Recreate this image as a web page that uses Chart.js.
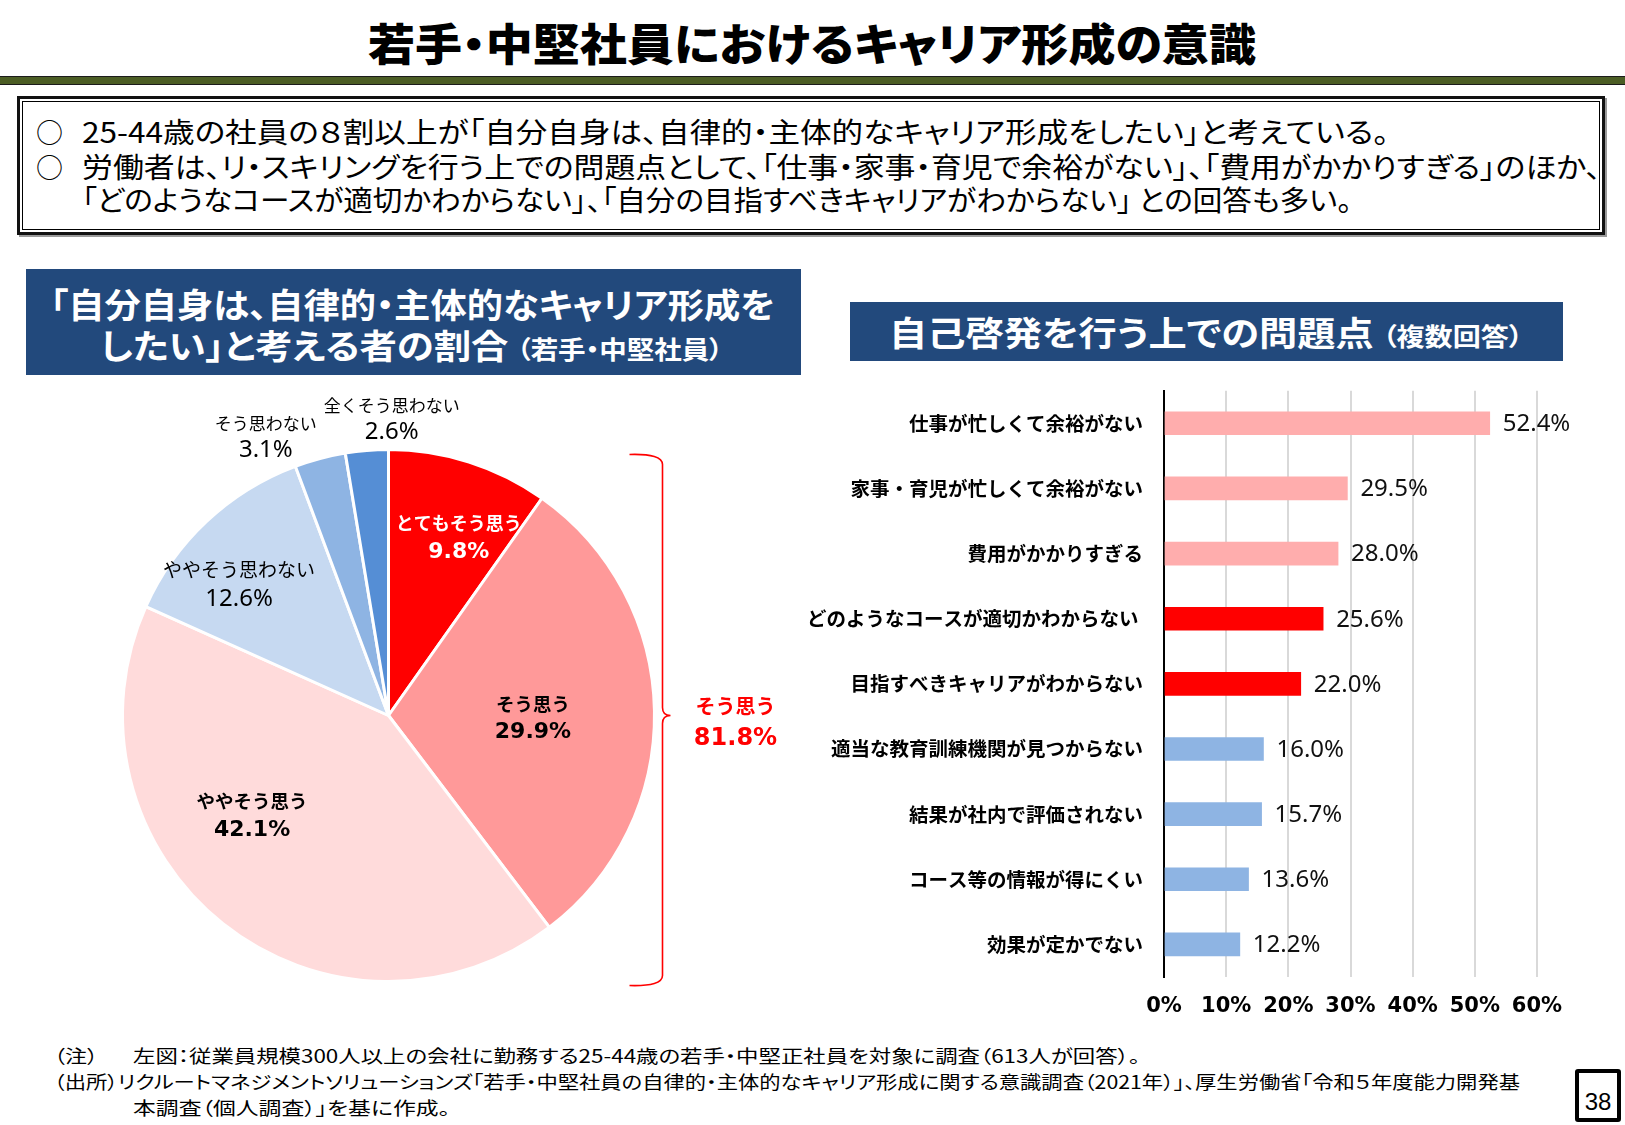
<!DOCTYPE html>
<html><head><meta charset="utf-8">
<script src="https://cdn.jsdelivr.net/npm/chart.js@4"></script>
<style>
html,body{margin:0;padding:0}
body{width:1625px;height:1125px;background:#fff;position:relative;overflow:hidden;font-family:"Noto Sans CJK JP","Noto Sans",sans-serif;color:#000}
.t{position:absolute;left:0;top:0;white-space:nowrap;line-height:1;font-feature-settings:"palt"}
.box{position:absolute;box-sizing:border-box}
canvas{position:absolute}
</style></head><body>

<div class="t" data-cx="812" data-cy="42" data-w="888" style="font-size:44px;font-weight:900">若手・中堅社員におけるキャリア形成の意識</div>
<div class="box" style="left:0;top:76px;width:1625px;height:9px;background:#4B5D24;border-top:1.5px solid #1b1b1b;border-bottom:1.5px solid #1b1b1b"></div>

<div class="box" style="left:17px;top:96px;width:1588px;height:139px;border:3px solid #111;box-shadow:inset 0 0 0 2px #fff, inset 0 0 0 3px #000, 2px 2px 0 #9a9a9a"></div>
<div class="t" data-x="36" data-cy="131" style="font-size:27px;font-feature-settings:normal">○</div>
<div class="t" data-x="36" data-cy="166" style="font-size:27px;font-feature-settings:normal">○</div>
<div class="t" data-x="82" data-cy="131" data-w="1307" style="font-size:28px">25-44歳の社員の８割以上が「自分自身は、自律的・主体的なキャリア形成をしたい」と考えている。</div>
<div class="t" data-x="82" data-cy="166" data-w="1519" style="font-size:28px">労働者は、リ・スキリングを行う上での問題点として、「仕事・家事・育児で余裕がない」、「費用がかかりすぎる」のほか、</div>
<div class="t" data-x="82" data-cy="199" data-w="1270" style="font-size:28px">「どのようなコースが適切かわからない」、「自分の目指すべきキャリアがわからない」 との回答も多い。</div>

<div class="box" style="left:26px;top:269px;width:775px;height:106px;background:#22497C"></div>
<div class="t" data-x="50" data-cy="304" data-w="725" style="font-size:34px;font-weight:700;color:#fff">「自分自身は、自律的・主体的なキャリア形成を</div>
<div class="t" data-x="100" data-cy="345" data-w="623" style="font-size:34px;font-weight:700;color:#fff">したい」と考える者の割合 <span style="font-size:25px">（若手・中堅社員）</span></div>

<div class="box" style="left:850px;top:302px;width:713px;height:59px;background:#22497C"></div>
<div class="t" data-x="889" data-cy="332" data-w="634" style="font-size:34px;font-weight:700;color:#fff">自己啓発を行う上での問題点 <span style="font-size:25px">（複数回答）</span></div>

<canvas id="pie" width="820" height="620" style="left:0;top:380px;width:820px;height:620px"></canvas>
<canvas id="bar" width="845" height="672" style="left:780px;top:358px;width:845px;height:672px"></canvas>

<div class="t" data-x="54" data-cy="1055" data-w="44" style="font-size:18px">（注）</div>
<div class="t" data-x="133" data-cy="1055" data-w="1007" style="font-size:18px">左図：従業員規模300人以上の会社に勤務する25-44歳の若手・中堅正社員を対象に調査（613人が回答）。</div>
<div class="t" data-x="54" data-cy="1081" data-w="1466" style="font-size:18px">（出所）リクルートマネジメントソリューションズ「若手・中堅社員の自律的・主体的なキャリア形成に関する意識調査（2021年）」、厚生労働省「令和５年度能力開発基</div>
<div class="t" data-x="133" data-cy="1107" data-w="317" style="font-size:18px">本調査（個人調査）」を基に作成。</div>

<div class="box" style="left:1575px;top:1069px;width:46px;height:53px;border:4px solid #000;border-radius:3px"></div>
<div class="t" data-cx="1598" data-cy="1102" style="font-size:24px;font-family:'Liberation Sans',Arial,sans-serif">38</div>

<script>
// ---- data ----
const pieLabels = ['とてもそう思う', 'そう思う', 'ややそう思う', 'ややそう思わない', 'そう思わない', '全くそう思わない'];
const pieValues = [9.8, 29.9, 42.1, 12.6, 3.1, 2.6];
const braceLabel = 'そう思う';
const braceCount = 3; // first three slices summed

const barLabels = [
  '仕事が忙しくて余裕がない',
  '家事・育児が忙しくて余裕がない',
  '費用がかかりすぎる',
  'どのようなコースが適切かわからない ',
  '目指すべきキャリアがわからない',
  '適当な教育訓練機関が見つからない',
  '結果が社内で評価されない',
  'コース等の情報が得にくい',
  '効果が定かでない'
];
const barValues = [52.4, 29.5, 28.0, 25.6, 22.0, 16.0, 15.7, 13.6, 12.2];
const xTickValues = [0, 10, 20, 30, 40, 50, 60];

// ---- styles ----
const pieColors = ['#FF0000', '#FF9999', '#FFDBDB', '#C6D9F1', '#8EB4E3', '#558ED5'];
const pieTextColors = ['#fff', '#000', '#000', '#000', '#000', '#000'];
const pieBold = [true, true, true, false, false, false];
const pieClip = [true, false, false, false, false, false];
const pieJpSize = [18, 18.5, 18.5, 19, 17, 17];
const pieAngleOffset = [3.9, 1.8, 15.4, -5.5, -8.8, 5.3];
const pieRadiusFrac = [0.72, 0.543, 0.635, 0.748, 1.146, 1.117];
const pieLineGap = [28, 28, 28, 29, 26, 26];
const barColors = ['#FFADAD', '#FFADAD', '#FFADAD', '#FF0000', '#FF0000', '#8EB4E3', '#8EB4E3', '#8EB4E3', '#8EB4E3'];

const JP = '"Noto Sans CJK JP"';

function placeTexts() {
  document.querySelectorAll('.t').forEach(el => {
    const r = el.getBoundingClientRect();
    const w = r.width, h = r.height;
    const tw = el.dataset.w ? +el.dataset.w : w;
    const s = tw / w;
    const left = el.dataset.cx !== undefined ? (+el.dataset.cx - tw / 2) : +el.dataset.x;
    el.style.left = left + 'px';
    el.style.top = (+el.dataset.cy - h / 2) + 'px';
    el.style.transformOrigin = '0 50%';
    el.style.transform = 'scaleX(' + s + ')';
  });
}

const pieLabelPlugin = {
  id: 'pieLabelPlugin',
  afterDatasetsDraw(chart) {
    const ctx = chart.ctx;
    const meta = chart.getDatasetMeta(0);
    meta.data.forEach((arc, i) => {
      ctx.save();
      ctx.textAlign = 'center';
      ctx.textBaseline = 'middle';
      if (pieClip[i]) {
        ctx.beginPath();
        ctx.moveTo(arc.x, arc.y);
        ctx.arc(arc.x, arc.y, arc.outerRadius, arc.startAngle, arc.endAngle - 0.012);
        ctx.closePath();
        ctx.clip();
      }
      const mid = (arc.startAngle + arc.endAngle) / 2 + pieAngleOffset[i] * Math.PI / 180;
      const rr = arc.outerRadius * pieRadiusFrac[i];
      const x = arc.x + Math.cos(mid) * rr;
      const y = arc.y + Math.sin(mid) * rr;
      const g = pieLineGap[i] / 2;
      ctx.fillStyle = pieTextColors[i];
      ctx.font = (pieBold[i] ? 'bold ' : '') + pieJpSize[i] + 'px ' + JP;
      ctx.fillText(pieLabels[i], x, y - g);
      ctx.font = pieBold[i] ? 'bold 22px "DejaVu Sans"' : '24px "Noto Sans"';
      ctx.fillText(pieValues[i].toFixed(1) + '%', x, y + g + 1);
      ctx.restore();
    });
    // brace
    ctx.save();
    const a0 = meta.data[0];
    const cx = a0.x, cy = a0.y, r = a0.outerRadius;
    const bx = cx + r + 8, top = cy - r + 5, bot = cy + r + 4, endX = cx + r - 25, tipX = cx + r + 16;
    ctx.strokeStyle = '#FF0000';
    ctx.lineWidth = 1.6;
    ctx.beginPath();
    ctx.moveTo(endX, top);
    ctx.quadraticCurveTo(bx, top - 1, bx, top + 10);
    ctx.lineTo(bx, cy - 8);
    ctx.quadraticCurveTo(bx, cy, tipX, cy);
    ctx.quadraticCurveTo(bx, cy, bx, cy + 8);
    ctx.lineTo(bx, bot - 10);
    ctx.quadraticCurveTo(bx, bot + 1, endX, bot);
    ctx.stroke();
    const sum = pieValues.slice(0, braceCount).reduce((a, b) => a + b, 0);
    ctx.textAlign = 'center';
    ctx.textBaseline = 'middle';
    ctx.fillStyle = '#FF0000';
    ctx.font = 'bold 20px ' + JP;
    ctx.fillText(braceLabel, cx + r + 81, cy - 9);
    ctx.font = 'bold 24px "DejaVu Sans"';
    ctx.fillText(sum.toFixed(1) + '%', cx + r + 81, cy + 23);
    ctx.restore();
  }
};

const barValuePlugin = {
  id: 'barValuePlugin',
  afterDatasetsDraw(chart) {
    const ctx = chart.ctx;
    const meta = chart.getDatasetMeta(0);
    ctx.save();
    ctx.font = '24px "Noto Sans"';
    ctx.fillStyle = '#111';
    ctx.textAlign = 'left';
    ctx.textBaseline = 'middle';
    meta.data.forEach((bar, i) => {
      ctx.fillText(barValues[i].toFixed(1) + '%', bar.x + 13, bar.y + 1);
    });
    ctx.restore();
  }
};

function draw() {
  placeTexts();
  Chart.defaults.font.family = JP;
  Chart.defaults.color = '#000';

  new Chart(document.getElementById('pie'), {
    type: 'pie',
    data: {
      labels: pieLabels,
      datasets: [{
        data: pieValues,
        backgroundColor: pieColors,
        borderColor: '#fff',
        borderWidth: 3
      }]
    },
    options: {
      responsive: false,
      animation: false,
      devicePixelRatio: 1,
      layout: { padding: { left: 121, top: 68, right: 164, bottom: 17 } },
      plugins: { legend: { display: false }, tooltip: { enabled: false } }
    },
    plugins: [pieLabelPlugin]
  });

  new Chart(document.getElementById('bar'), {
    type: 'bar',
    data: {
      labels: barLabels,
      datasets: [{
        data: barValues,
        backgroundColor: barColors,
        borderWidth: 0,
        barThickness: 23
      }]
    },
    options: {
      indexAxis: 'y',
      responsive: false,
      animation: false,
      devicePixelRatio: 1,
      layout: { padding: { left: 0, top: 0, right: 88, bottom: 0 } },
      plugins: { legend: { display: false }, tooltip: { enabled: false } },
      scales: {
        x: {
          min: 0, max: 60,
          afterBuildTicks: (s) => { s.ticks = xTickValues.map(v => ({ value: v })); },
          afterFit: (s) => { s.height = 53; },
          grid: { color: '#D9D9D9', lineWidth: 2, drawTicks: false },
          border: { display: false },
          ticks: {
            padding: 17,
            color: '#000',
            font: { family: '"DejaVu Sans"', weight: 'bold', size: 21 },
            callback: (v) => v + '%'
          }
        },
        y: {
          afterFit: (s) => { s.width = 384; },
          grid: { display: false, drawTicks: false },
          border: { display: true, color: '#000', width: 2 },
          ticks: {
            padding: 21,
            color: '#000',
            font: { family: JP, weight: 'bold', size: 19.5 }
          }
        }
      }
    },
    plugins: [barValuePlugin]
  });
}

if (document.fonts && document.fonts.ready) {
  document.fonts.ready.then(draw);
} else {
  draw();
}
</script>
</body></html>
